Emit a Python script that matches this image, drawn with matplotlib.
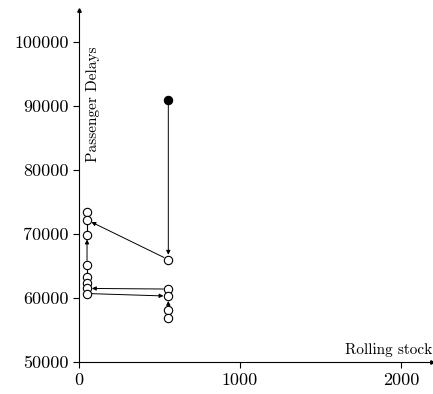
import matplotlib
matplotlib.use("Agg")
import matplotlib.pyplot as plt
from matplotlib.ticker import StrMethodFormatter

plt.rcParams["font.family"] = "cmr10"
plt.rcParams["axes.formatter.use_mathtext"] = True
plt.rcParams["mathtext.fontset"] = "cm"

# Open states (rolling stock, passenger delays)
open_x = [50, 50, 50, 50, 50, 50, 50, 50,
          555, 555, 555, 555, 555]
open_y = [73400, 72200, 69900, 65100, 63300, 62400, 61500, 60700,
          66000, 61400, 60300, 58200, 56800]

# Filled starting point
start_x = [555]
start_y = [91000]

# Moves drawn as arrows: (x0, y0) -> (x1, y1)
moves = [
    ((555, 91000), (555, 66000)),
    ((555, 66000), (50, 72200)),
    ((50, 65100), (50, 69900)),
    ((555, 61400), (50, 61500)),
    ((50, 60700), (555, 60300)),
    ((555, 58200), (555, 60300)),
]
# Plain connecting segments (no visible head)
links = [
    ((50, 69900), (50, 72200)),
    ((50, 60700), (50, 65100)),
    ((555, 56800), (555, 58200)),
]

xticks = [0, 1000, 2000]
yticks = [50000, 60000, 70000, 80000, 90000, 100000]

fig = plt.figure(figsize=(4.33, 3.94), dpi=100)
ax = fig.add_axes([0.1824, 0.0812, 0.8152, 0.8934])
ax.set_xlim(0, 2193)
ax.set_ylim(50000, 105000)

for (x0, y0), (x1, y1) in links:
    ax.plot([x0, x1], [y0, y1], color="black", lw=0.8, zorder=2)

for (x0, y0), (x1, y1) in moves:
    ax.annotate("", xy=(x1, y1), xytext=(x0, y0),
                arrowprops=dict(arrowstyle="-|>", color="black", lw=0.7,
                                mutation_scale=6, shrinkA=3.5, shrinkB=3.5),
                zorder=2)

ax.plot(open_x, open_y, "o", ms=6, mfc="white", mec="black", mew=0.8,
        ls="none", zorder=3)
ax.plot(start_x, start_y, "o", ms=6, mfc="black", mec="black", mew=0.8,
        ls="none", zorder=3)

for s in ["top", "right"]:
    ax.spines[s].set_visible(False)
ax.spines["left"].set_linewidth(0.8)
ax.spines["bottom"].set_linewidth(0.8)

# arrowheads at axis ends
ax.plot(1, 0, ">", transform=ax.transAxes, color="black", ms=2.5, clip_on=False)
ax.plot(0, 1, "^", transform=ax.transAxes, color="black", ms=2.5, clip_on=False)

ax.set_xticks(xticks)
ax.set_yticks(yticks)
ax.xaxis.set_major_formatter(StrMethodFormatter("{x:.0f}"))
ax.yaxis.set_major_formatter(StrMethodFormatter("{x:.0f}"))
ax.tick_params(direction="out", length=4, width=0.8, labelsize=13)

ax.text(1.0, 0.015, "Rolling stock", transform=ax.transAxes,
        ha="right", va="bottom", fontsize=11)
ax.text(0.04, 0.895, "Passenger Delays", transform=ax.transAxes,
        ha="center", va="top", rotation=90, fontsize=11)

fig.savefig("out.png", dpi=100)
